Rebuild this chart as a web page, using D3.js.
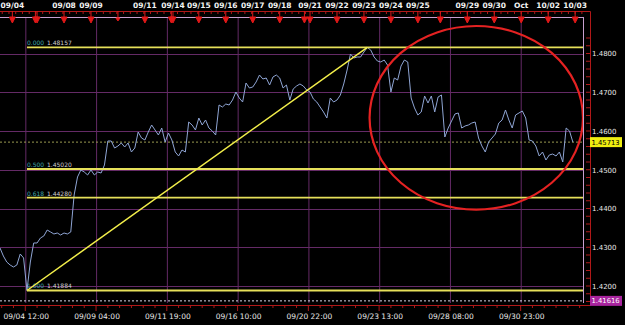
<!DOCTYPE html>
<html>
<head>
<meta charset="utf-8">
<script src="https://d3js.org/d3.v7.min.js"></script>
<style>
    body { margin: 0; background: #000; }
    svg { display: block; background: #000; font-family: "DejaVu Sans", sans-serif; }
</style>
</head>
<body>
<svg id="chart" width="625" height="325"></svg>
<script>
    // hourly bars, bar 0 = 09/04 00:00 (weekends skipped)
    var priceStartBar = -11;
    var priceStepBars = 3;
    var prices = [
        1.42981, 1.42774, 1.42619, 1.42542, 1.42490, 1.42542, 1.42826, 1.42723, 1.41884, 1.42619,
        1.43110, 1.43110, 1.43239, 1.43290, 1.43445, 1.43394, 1.43342, 1.43368, 1.43316, 1.43368,
        1.43342, 1.43394, 1.44348, 1.44813, 1.44994, 1.44942, 1.44865, 1.44994, 1.44865, 1.44942,
        1.44916, 1.45123, 1.45742, 1.45742, 1.45561, 1.45613, 1.45690, 1.45587, 1.45690, 1.45458,
        1.45561, 1.45974, 1.45819, 1.45768, 1.45974, 1.46155, 1.46026, 1.45897, 1.46077, 1.45716,
        1.45948, 1.45768, 1.45458, 1.45355, 1.45510, 1.45458, 1.46232, 1.46155, 1.46026, 1.46335,
        1.46155, 1.46284, 1.46077, 1.46000, 1.45897, 1.46671, 1.46619, 1.46697, 1.46671, 1.46800,
        1.47006, 1.46852, 1.46748, 1.47239, 1.47110, 1.47135, 1.47265, 1.47445, 1.47342, 1.47368,
        1.47187, 1.47394, 1.47445, 1.47368, 1.47110, 1.47187, 1.46800, 1.47084, 1.47161, 1.47213,
        1.47161, 1.47058, 1.47006, 1.46826, 1.46748, 1.46619, 1.46490, 1.46335, 1.46852, 1.46748,
        1.46800, 1.46929, 1.47213, 1.47574, 1.47987, 1.47884, 1.47910, 1.47910, 1.48039, 1.48157,
        1.48090, 1.47910, 1.47806, 1.47781, 1.47832, 1.47703, 1.47006, 1.47368, 1.47316, 1.47677,
        1.47832, 1.47781, 1.46852, 1.46594, 1.46413, 1.46490, 1.46903, 1.46723, 1.46903, 1.46490,
        1.46877, 1.46929, 1.45845, 1.46077, 1.46258, 1.46439, 1.46465, 1.46077, 1.46129, 1.46155,
        1.46206, 1.46232, 1.45819, 1.45613, 1.45458, 1.45716, 1.45819, 1.45923, 1.46206, 1.46284,
        1.46542, 1.46284, 1.46077, 1.46413, 1.46465, 1.46516, 1.46335, 1.45768, 1.45742, 1.45613,
        1.45355, 1.45458, 1.45252, 1.45381, 1.45406, 1.45355, 1.45458, 1.45200, 1.46077, 1.46000,
        1.45713
    ];

    var bottomTickBars = [12, 75, 138, 201, 264, 327, 390, 453];
    var bottomTickLabels = ["09/04 12:00", "09/09 04:00", "09/11 19:00", "09/16 10:00",
        "09/20 22:00", "09/23 13:00", "09/28 08:00", "09/30 23:00"];

    var dayBars = [0, 46, 70, 118, 143, 166, 190, 214, 238, 265, 289, 313, 337, 361, 405, 429, 453, 477, 501];
    var dayLabels = ["09/04", "09/08", "09/09", "09/11", "09/14", "09/15", "09/16", "09/17", "09/18",
        "09/21", "09/22", "09/23", "09/24", "09/25", "09/29", "09/30", "Oct", "10/02", "10/03"];
    var arrowBars = [0, 20.5, 22, 46, 70, 94, 118, 141.5, 143, 166, 190, 214, 238, 260, 265,
        289, 313, 337, 361, 381, 405, 429, 453, 477, 501];

    var priceTicks = [1.42, 1.43, 1.44, 1.45, 1.46, 1.47, 1.48];
    var fibRatios = ["0.000", "0.500", "0.618", "1.000"];
    var fibPrices = [1.48157, 1.45020, 1.44280, 1.41884];
    var fibStartBar = 13;
    var swingBars = [13, 316];
    var swingPrices = [1.41884, 1.48157];
    var lastPrice = 1.45713;
    var lowPrice = 1.41616;
    var circleCenter = [413, 1.4634];
    var circleRadius = [95, 0.0237];

    var svg = d3.select('#chart');
    var plot = {left: 0, right: 583, top: 17, bottom: 303};
    var rulerX = 590, rulerTop = 11, rulerBottom = 305;

    var x = d3.scaleLinear().domain([-11, 508]).range([plot.left, plot.right]);
    var y = d3.scaleLinear().domain([1.42, 1.48]).range([286, 53.5]);
    var barOf = function(i) { return priceStartBar + i * priceStepBars; };

    // grid
    svg.append("g")
        .selectAll("line")
        .data(bottomTickBars)
        .join("line")
        .attr("x1", d => x(d)).attr("x2", d => x(d))
        .attr("y1", plot.top).attr("y2", plot.bottom)
        .attr("stroke", "#642a66").attr("stroke-width", 1);
    svg.append("g")
        .selectAll("line")
        .data(priceTicks)
        .join("line")
        .attr("x1", plot.left).attr("x2", plot.right)
        .attr("y1", d => Math.round(y(d)) + 0.5).attr("y2", d => Math.round(y(d)) + 0.5)
        .attr("stroke", "#642a66").attr("stroke-width", 1);

    // dotted price lines
    svg.append("line")
        .attr("x1", plot.left).attr("x2", plot.right)
        .attr("y1", y(lastPrice)).attr("y2", y(lastPrice))
        .attr("stroke", "#9a9a50").attr("stroke-dasharray", "2,2");
    svg.append("line")
        .attr("x1", plot.left).attr("x2", plot.right)
        .attr("y1", y(lowPrice)).attr("y2", y(lowPrice))
        .attr("stroke", "#d8d8e8").attr("stroke-dasharray", "2,2");

    // price line
    var line = d3.line()
        .x((d, i) => x(barOf(i)))
        .y(d => y(d));
    svg.append("path")
        .datum(prices)
        .attr("d", line)
        .attr("fill", "none")
        .attr("stroke", "#8fa5d4")
        .attr("stroke-width", 1);

    // fibonacci levels
    var fib = svg.append("g");
    fib.selectAll("line")
        .data(fibPrices)
        .join("line")
        .attr("x1", x(fibStartBar)).attr("x2", plot.right)
        .attr("y1", d => y(d)).attr("y2", d => y(d))
        .attr("stroke", "#e6e05a").attr("stroke-width", 1.8);
    fib.selectAll("text.ratio")
        .data(fibPrices)
        .join("text")
        .attr("class", "ratio")
        .attr("x", x(fibStartBar))
        .attr("y", d => y(d) - 2)
        .attr("font-size", "6px")
        .attr("fill", "#3fa7a7")
        .text((d, i) => fibRatios[i]);
    fib.selectAll("text.val")
        .data(fibPrices)
        .join("text")
        .attr("class", "val")
        .attr("x", x(fibStartBar) + 20)
        .attr("y", d => y(d) - 2)
        .attr("font-size", "6px")
        .attr("fill", "#cfcfcf")
        .text(d => d.toFixed(5));

    // swing trend line
    svg.append("line")
        .attr("x1", x(swingBars[0])).attr("y1", y(swingPrices[0]))
        .attr("x2", x(swingBars[1])).attr("y2", y(swingPrices[1]))
        .attr("stroke", "#f2ee4a").attr("stroke-width", 1.5);

    // red ellipse
    svg.append("ellipse")
        .attr("cx", x(circleCenter[0]))
        .attr("cy", y(circleCenter[1]))
        .attr("rx", x(circleCenter[0] + circleRadius[0]) - x(circleCenter[0]))
        .attr("ry", y(circleCenter[1] - circleRadius[1]) - y(circleCenter[1]))
        .attr("fill", "none")
        .attr("stroke", "#e52222")
        .attr("stroke-width", 2.2);

    // frame
    svg.append("line")
        .attr("x1", plot.left).attr("x2", plot.right + 0.5)
        .attr("y1", plot.top + 0.5).attr("y2", plot.top + 0.5)
        .attr("stroke", "#c79fcf");
    svg.append("line")
        .attr("x1", plot.right + 0.5).attr("x2", plot.right + 0.5)
        .attr("y1", plot.top).attr("y2", plot.bottom)
        .attr("stroke", "#c79fcf");

    // red rulers
    var rulers = svg.append("g").attr("stroke", "#b01818").attr("fill", "none");
    rulers.append("path")
        .attr("d", `M${plot.left},${rulerTop + 0.5}H${rulerX + 0.5}V${rulerBottom + 0.5}H${plot.left}`);
    rulers.selectAll("line.top")
        .data(d3.range(-9, 508, 6))
        .join("line").attr("class", "top")
        .attr("x1", d => x(d)).attr("x2", d => x(d))
        .attr("y1", rulerTop).attr("y2", rulerTop + 3);
    rulers.selectAll("line.bot")
        .data(d3.range(-9.5, 508, 10.5))
        .join("line").attr("class", "bot")
        .attr("x1", d => x(d)).attr("x2", d => x(d))
        .attr("y1", rulerBottom).attr("y2", d => rulerBottom + ((Math.round((d - 12) / 10.5) % 6 === 0) ? 6 : 3));
    rulers.selectAll("line.right")
        .data(d3.range(1.416, 1.4851, 0.002))
        .join("line").attr("class", "right")
        .attr("x1", rulerX - 4).attr("x2", rulerX)
        .attr("y1", d => y(d)).attr("y2", d => y(d));

    // day markers
    svg.append("g")
        .selectAll("path")
        .data(arrowBars)
        .join("path")
        .attr("transform", d => `translate(${x(d)},0)`)
        .attr("d", d => d === 94
            ? `M0,${rulerTop}V18M-2,18L2,18L0,21Z`
            : `M0,${rulerTop}V17M-3,17L3,17L0,23Z`)
        .attr("stroke", "#e01818")
        .attr("fill", "#e01818");
    svg.append("g")
        .selectAll("text")
        .data(dayBars)
        .join("text")
        .attr("x", d => x(d))
        .attr("y", 7.5)
        .attr("text-anchor", "middle")
        .attr("font-size", "7.5px")
        .attr("font-weight", "bold")
        .attr("fill", "#f2f2f2")
        .text((d, i) => dayLabels[i]);

    // bottom axis
    var xAxis = g => g
        .attr("transform", `translate(0,${rulerBottom})`)
        .call(d3.axisBottom(x).tickValues(bottomTickBars).tickSize(0).tickPadding(9)
            .tickFormat((d, i) => bottomTickLabels[i]))
        .call(g => g.select(".domain").remove())
        .call(g => g.selectAll("text").attr("fill", "#e8e8e8")
            .attr("font-size", "7.5px").attr("font-family", "DejaVu Sans"));
    svg.append("g").call(xAxis);

    // right axis
    var yAxis = g => g
        .attr("transform", `translate(${rulerX},0)`)
        .call(d3.axisRight(y).tickValues(priceTicks).tickSize(0).tickPadding(2)
            .tickFormat(d3.format(".4f")))
        .call(g => g.select(".domain").remove())
        .call(g => g.selectAll("text").attr("fill", "#e8e8e8")
            .attr("font-size", "7px").attr("font-family", "DejaVu Sans"));
    svg.append("g").call(yAxis);

    // price tags
    var tags = [[lastPrice, "#f0ee10", "#000"], [lowPrice, "#a8249e", "#fff"]];
    var tag = svg.append("g")
        .selectAll("g")
        .data(tags)
        .join("g")
        .attr("transform", d => `translate(${rulerX},${y(d[0])})`);
    tag.append("rect")
        .attr("x", 0).attr("y", -5).attr("width", 32).attr("height", 10)
        .attr("fill", d => d[1]);
    tag.append("text")
        .attr("x", 1.5).attr("y", 2.5)
        .attr("font-size", "6.8px")
        .attr("fill", d => d[2])
        .text(d => d[0].toFixed(5));
</script>
</body>
</html>
